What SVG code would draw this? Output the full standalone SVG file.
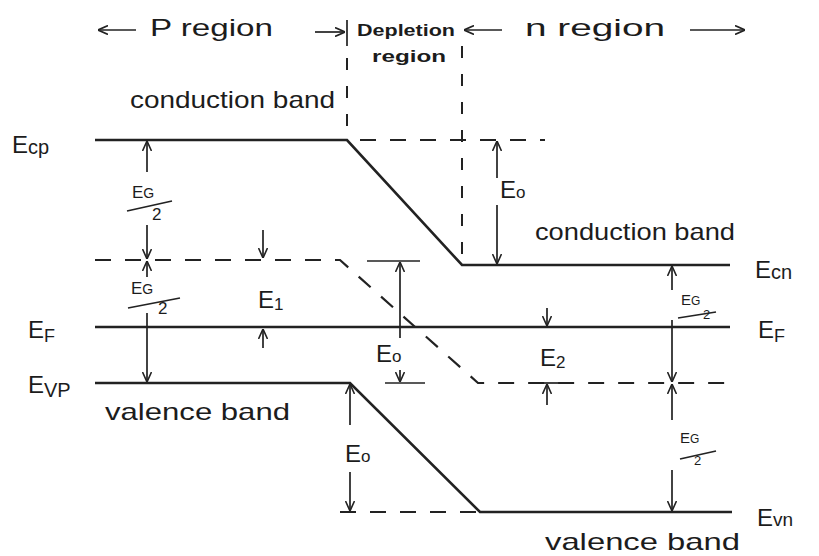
<svg xmlns="http://www.w3.org/2000/svg" width="819" height="556" viewBox="0 0 819 556">
<defs>
<marker id="ah" viewBox="0 0 10 10" refX="10" refY="5" markerWidth="10" markerHeight="10" markerUnits="userSpaceOnUse" orient="auto">
<path d="M0,0.5 L10,5 L0,9.5" fill="none" stroke="#222" stroke-width="1.6"/>
</marker>
</defs>
<style>
text{font-family:"Liberation Sans","DejaVu Sans",sans-serif;fill:#1c1c1c}
.lbl{font-size:24px}
.sm{font-size:17px}
.band{stroke:#222;stroke-width:2.6;fill:none}
.dash{stroke:#222;stroke-width:2.2;fill:none;stroke-dasharray:16 14}
.vd{stroke:#222;stroke-width:2;fill:none;stroke-dasharray:12 16}
.arr{stroke:#222;stroke-width:1.7;fill:none;marker-end:url(#ah)}
.ln{stroke:#222;stroke-width:1.7;fill:none}
</style>
<rect width="819" height="556" fill="#fff"/>

<g id="header">
<line class="arr" x1="136" y1="30" x2="98" y2="30"/>
<text class="lbl" x="150" y="36" textLength="123" lengthAdjust="spacingAndGlyphs">P region</text>
<line class="arr" x1="315" y1="32" x2="345" y2="32"/>
<text x="357" y="36" font-size="17" font-weight="bold" textLength="98" lengthAdjust="spacingAndGlyphs">Depletion</text>
<text x="372" y="62" font-size="17" font-weight="bold" textLength="74" lengthAdjust="spacingAndGlyphs">region</text>
<line class="arr" x1="502" y1="30" x2="464" y2="30"/>
<text class="lbl" x="525" y="36" textLength="140" lengthAdjust="spacingAndGlyphs">n region</text>
<line class="arr" x1="690" y1="30" x2="745" y2="30"/>
</g>

<g id="boundaries">
<line class="ln" x1="347" y1="20" x2="347" y2="46"/>
<line class="vd" x1="347" y1="58" x2="347" y2="140"/>
<line class="vd" x1="462" y1="46" x2="462" y2="262"/>
</g>

<g id="band-labels">
<text class="lbl" x="130" y="108" textLength="205" lengthAdjust="spacingAndGlyphs">conduction band</text>
<text class="lbl" x="535" y="240" textLength="200" lengthAdjust="spacingAndGlyphs">conduction band</text>
<text class="lbl" x="105" y="420" textLength="185" lengthAdjust="spacingAndGlyphs">valence band</text>
<text class="lbl" x="545" y="550" textLength="195" lengthAdjust="spacingAndGlyphs">valence band</text>
<text class="lbl" x="12" y="153" font-size="26">E<tspan font-size="20" dy="1">cp</tspan></text>
<text class="lbl" x="28" y="338" font-size="26">E<tspan font-size="18" dy="4">F</tspan></text>
<text class="lbl" x="28" y="393" font-size="26">E<tspan font-size="20" dy="4">VP</tspan></text>
<text class="lbl" x="755" y="278" font-size="26">E<tspan font-size="20" dy="1">cn</tspan></text>
<text class="lbl" x="758" y="338" font-size="26">E<tspan font-size="18" dy="4">F</tspan></text>
<text class="lbl" x="757" y="526" font-size="26">E<tspan font-size="19" dy="0">vn</tspan></text>
</g>

<g id="conduction-band">
<path class="band" d="M95,140 L347,140 L462,265 L730,265"/>
<line class="dash" x1="360" y1="140" x2="545" y2="140"/>
</g>

<g id="intrinsic-level">
<path class="dash" d="M95,260 L340,260 L478,383 L735,383"/>
</g>

<g id="fermi-level">
<line class="band" x1="95" y1="327" x2="730" y2="327"/>
</g>

<g id="valence-band">
<path class="band" d="M95,383 L350,383 L480,512 L732,512"/>
<line class="dash" x1="340" y1="512" x2="478" y2="512"/>
</g>

<g id="connectors">
<line class="arr" x1="147" y1="172" x2="147" y2="141"/>
<line class="arr" x1="147" y1="225" x2="147" y2="259"/>
<line class="arr" x1="147" y1="277" x2="147" y2="261"/>
<line class="arr" x1="147" y1="313" x2="147" y2="382"/>
<line class="arr" x1="263" y1="230" x2="263" y2="258"/>
<line class="arr" x1="263" y1="348" x2="263" y2="329"/>
<line class="ln" x1="367" y1="261" x2="420" y2="261"/>
<line class="arr" x1="400" y1="338" x2="400" y2="262"/>
<line class="arr" x1="400" y1="370" x2="400" y2="382"/>
<line class="ln" x1="385" y1="383" x2="425" y2="383"/>
<line class="arr" x1="497" y1="178" x2="497" y2="141"/>
<line class="arr" x1="497" y1="205" x2="497" y2="264"/>
<line class="arr" x1="547" y1="308" x2="547" y2="326"/>
<line class="arr" x1="547" y1="405" x2="547" y2="384"/>
<line class="ln" x1="538" y1="383" x2="560" y2="383"/>
<line class="arr" x1="672" y1="290" x2="672" y2="266"/>
<line class="arr" x1="672" y1="320" x2="672" y2="382"/>
<line class="arr" x1="672" y1="420" x2="672" y2="384"/>
<line class="arr" x1="672" y1="470" x2="672" y2="511"/>
<line class="arr" x1="350" y1="425" x2="350" y2="384"/>
<line class="arr" x1="350" y1="472" x2="350" y2="511"/>
</g>

<g id="energy-labels">
<text class="lbl" x="500" y="198">E<tspan font-size="17">o</tspan></text>
<text class="lbl" x="376" y="362">E<tspan font-size="17">o</tspan></text>
<text class="lbl" x="345" y="462">E<tspan font-size="17">o</tspan></text>
<text class="lbl" x="258" y="308">E<tspan font-size="17" dy="2">1</tspan></text>
<text class="lbl" x="540" y="366">E<tspan font-size="17" dy="2">2</tspan></text>
<text class="sm" x="132" y="198">E<tspan font-size="14">G</tspan></text>
<line class="ln" x1="127" y1="211" x2="172" y2="201"/>
<text class="sm" x="152" y="220">2</text>
<text class="sm" x="131" y="294">E<tspan font-size="14">G</tspan></text>
<line class="ln" x1="128" y1="308" x2="180" y2="298"/>
<text class="sm" x="158" y="314">2</text>
<text x="681" y="305" font-size="15">E<tspan font-size="12">G</tspan></text>
<line class="ln" x1="678" y1="318" x2="716" y2="312"/>
<text x="703" y="319" font-size="13">2</text>
<text x="680" y="443" font-size="15">E<tspan font-size="12">G</tspan></text>
<line class="ln" x1="680" y1="459" x2="716" y2="451"/>
<text x="694" y="465" font-size="13">2</text>
</g>
</svg>
